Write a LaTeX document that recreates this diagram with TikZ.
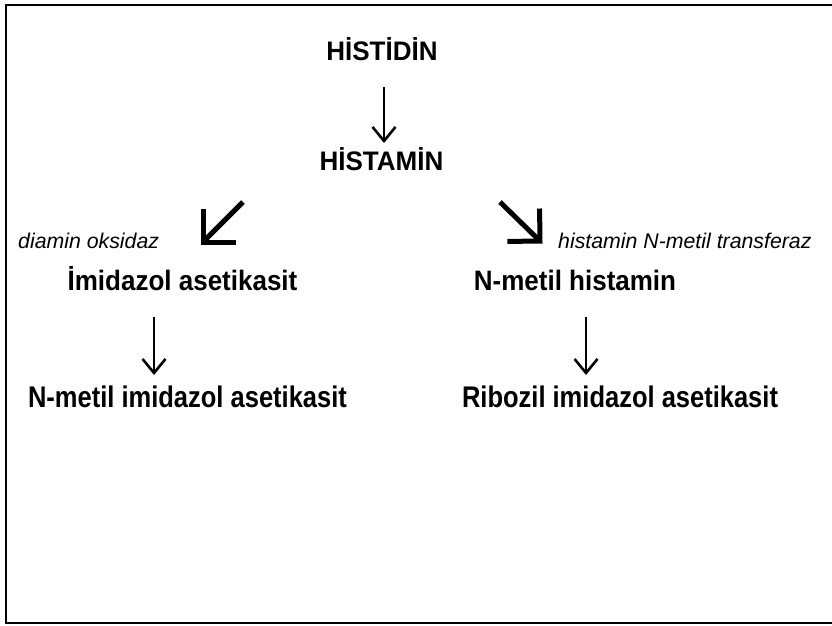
\documentclass[tikz,border=0pt]{standalone}
\usepackage{fontspec}
\usepackage{graphicx}
\setmainfont{Liberation Sans}
\usetikzlibrary{arrows.meta}
\begin{document}
\begin{tikzpicture}[x=1pt,y=-1pt,
  ttl/.style={font=\fontsize{26}{30}\selectfont\bfseries, inner sep=0pt, anchor=base},
  enz/.style={font=\fontsize{21.3}{25}\selectfont\itshape, inner sep=0pt, anchor=base west},
  thinarrow/.style={line width=2.6pt, -{Straight Barb[length=14pt,width=23pt]}},
  bigarrow/.style={line width=5pt, -{Straight Barb[length=23pt,width=46pt]}},
  frame/.style={line width=2.5pt}]
\useasboundingbox (0,0) rectangle (832,625);
\draw[frame] (834,5) -- (6,5) -- (6,623) -- (834,623);

\node[ttl] (his) at (382,60) {\scalebox{1}[1.03]{HİSTİDİN}};
\node[ttl] (hsm) at (381.5,170) {\scalebox{1}[1.03]{HİSTAMİN}};
\node[ttl] (ima) at (182.5,290) {\scalebox{1}[1.08]{İmidazol asetikasit}};
\node[ttl] (nmh) at (575,290) {\scalebox{1}[1.08]{N-metil histamin}};
\node[ttl,font=\fontsize{25.5}{30}\selectfont\bfseries] (nmi) at (187.5,407) {\scalebox{1}[1.17]{N-metil imidazol asetikasit}};
\node[ttl,font=\fontsize{25.5}{30}\selectfont\bfseries] (rib) at (620,407) {\scalebox{1}[1.17]{Ribozil imidazol asetikasit}};
\node[enz] (dao) at (18,248) {diamin oksidaz};
\node[enz] (hnmt) at (558,248) {histamin N-metil transferaz};

\coordinate (a1s) at (384,87);
\coordinate (a1e) at (384,143);
\coordinate (a2s) at (243,202);
\coordinate (a2e) at (200.5,244.5);
\coordinate (a3s) at (500,202);
\coordinate (a3e) at (542.5,243.5);
\coordinate (a4s) at (154,317);
\coordinate (a4e) at (154,375);
\coordinate (a5s) at (586,317);
\coordinate (a5e) at (586,375);

\draw[thinarrow] (a1s) -- (a1e);
\draw[bigarrow] (a2s) -- (a2e);
\draw[bigarrow] (a3s) -- (a3e);
\draw[thinarrow] (a4s) -- (a4e);
\draw[thinarrow] (a5s) -- (a5e);
\end{tikzpicture}
\end{document}
